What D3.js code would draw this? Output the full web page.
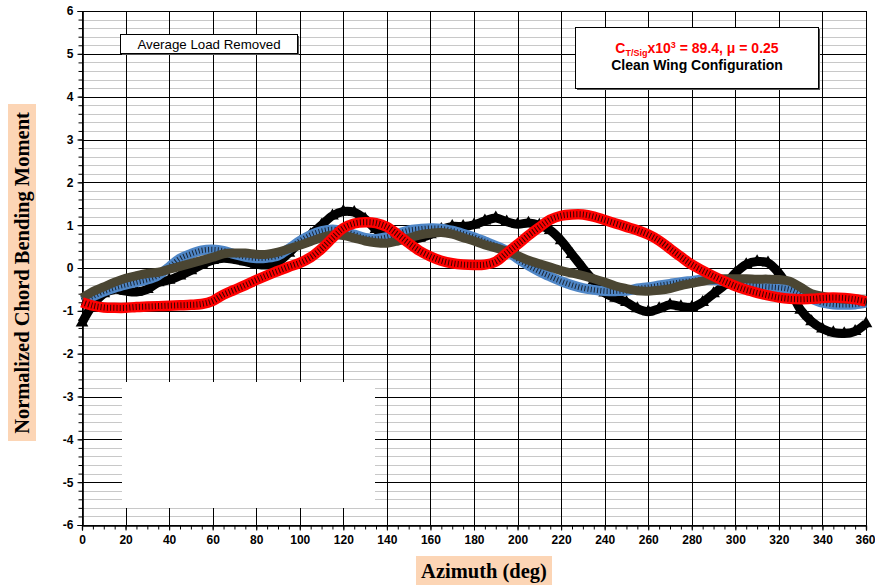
<!DOCTYPE html>
<html>
<head>
<meta charset="utf-8">
<script src="https://cdn.jsdelivr.net/npm/d3@7"></script>
<style>
  html, body { margin: 0; padding: 0; background: #fff; }
  svg { display: block; }
</style>
</head>
<body>
<svg id="chart" width="875" height="585"></svg>
<script>
// Azimuth samples (deg), every 5 degrees
const azimuth = d3.range(0, 361, 5);

// Normalized chord bending moment, one array per series
const seriesBlack = [
  -1.28, -0.86, -0.60, -0.50, -0.54, -0.56, -0.50, -0.34, -0.28, -0.18,
  -0.06, 0.08, 0.18, 0.23, 0.20, 0.15, 0.09, 0.07, 0.14, 0.35,
  0.60, 0.78, 1.00, 1.22, 1.32, 1.30, 1.14, 0.90, 0.74, 0.67,
  0.66, 0.70, 0.78, 0.90, 0.97, 0.97, 1.01, 1.10, 1.17, 1.08,
  1.02, 1.05, 1.00, 0.88, 0.64, 0.32, 0.00, -0.30, -0.58, -0.70,
  -0.80, -0.95, -1.02, -0.95, -0.86, -0.90, -0.92, -0.80, -0.60, -0.40,
  -0.12, 0.08, 0.15, 0.12, -0.12, -0.50, -0.98, -1.25, -1.42, -1.51,
  -1.53, -1.48, -1.30
];
const seriesBlue = [
  -0.76, -0.66, -0.55, -0.46, -0.39, -0.33, -0.27, -0.17, 0.02, 0.22,
  0.33, 0.41, 0.43, 0.40, 0.32, 0.26, 0.23, 0.24, 0.29, 0.45,
  0.63, 0.77, 0.86, 0.90, 0.86, 0.78, 0.70, 0.68, 0.72, 0.80,
  0.88, 0.91, 0.93, 0.92, 0.87, 0.80, 0.72, 0.62, 0.52, 0.40,
  0.22, 0.06, -0.08, -0.20, -0.31, -0.40, -0.47, -0.51, -0.54, -0.54,
  -0.53, -0.48, -0.45, -0.41, -0.37, -0.33, -0.30, -0.27, -0.28, -0.31,
  -0.36, -0.40, -0.42, -0.44, -0.46, -0.50, -0.60, -0.72, -0.81, -0.85,
  -0.86, -0.85, -0.81
];
const seriesOlive = [
  -0.70, -0.55, -0.44, -0.33, -0.24, -0.18, -0.13, -0.10, -0.03, 0.04,
  0.11, 0.18, 0.25, 0.33, 0.35, 0.35, 0.32, 0.32, 0.37, 0.45,
  0.53, 0.62, 0.71, 0.77, 0.76, 0.70, 0.63, 0.59, 0.58, 0.63,
  0.70, 0.77, 0.81, 0.83, 0.79, 0.71, 0.63, 0.54, 0.47, 0.39,
  0.29, 0.18, 0.10, 0.02, -0.06, -0.12, -0.18, -0.25, -0.33, -0.42,
  -0.48, -0.53, -0.54, -0.52, -0.48, -0.41, -0.36, -0.31, -0.27, -0.25,
  -0.25, -0.25, -0.26, -0.26, -0.27, -0.31, -0.45, -0.60, -0.66, -0.71,
  -0.73, -0.73, -0.75
];
const seriesRed = [
  -0.80, -0.88, -0.92, -0.93, -0.93, -0.91, -0.90, -0.89, -0.88, -0.87,
  -0.86, -0.84, -0.77, -0.62, -0.51, -0.40, -0.28, -0.17, -0.07, 0.03,
  0.12, 0.25, 0.45, 0.70, 0.93, 1.04, 1.07, 1.05, 0.96, 0.78,
  0.58, 0.40, 0.27, 0.17, 0.11, 0.08, 0.07, 0.08, 0.15, 0.35,
  0.55, 0.76, 0.95, 1.13, 1.22, 1.25, 1.25, 1.20, 1.12, 1.04,
  0.96, 0.88, 0.78, 0.64, 0.45, 0.26, 0.08, -0.06, -0.19, -0.31,
  -0.42, -0.51, -0.58, -0.64, -0.69, -0.72, -0.73, -0.72, -0.70, -0.69,
  -0.70, -0.73, -0.78
];

// Axis ticks
const xMajorTicks = d3.range(0, 361, 20);
const xMinorTicks = d3.range(0, 361, 5);
const yMajorTicks = d3.range(-6, 7, 1);
const yMinorTicks = d3.range(-30, 31).map(v => v / 5);

const titleY = "Normalized Chord Bending Moment";
const titleX = "Azimuth (deg)";
const noteLeft = "Average Load Removed";

const svg = d3.select("#chart");
const plotLeft = 82, plotRight = 866, plotTop = 11, plotBottom = 525;

const x = d3.scaleLinear().domain([0, 360]).range([plotLeft, plotRight]);
const y = d3.scaleLinear().domain([-6, 6]).range([plotBottom, plotTop]);

// Grid: light minor lines every 0.2, black lines at integers and every 20 deg
const grid = svg.append("g");
grid.selectAll("line.minor")
  .data(yMinorTicks.filter(v => Math.abs(v - Math.round(v)) > 1e-6))
  .join("line")
  .attr("x1", plotLeft).attr("x2", plotRight)
  .attr("y1", d => Math.round(y(d)) + 0.5).attr("y2", d => Math.round(y(d)) + 0.5)
  .attr("stroke", "#c8c8c8").attr("stroke-width", 1);
grid.selectAll("line.hmajor")
  .data(yMajorTicks)
  .join("line")
  .attr("x1", plotLeft).attr("x2", plotRight)
  .attr("y1", d => Math.round(y(d)) + 0.5).attr("y2", d => Math.round(y(d)) + 0.5)
  .attr("stroke", "#000").attr("stroke-width", 1);
grid.selectAll("line.vmajor")
  .data(xMajorTicks)
  .join("line")
  .attr("x1", d => Math.round(x(d)) + 0.5).attr("x2", d => Math.round(x(d)) + 0.5)
  .attr("y1", plotTop).attr("y2", plotBottom)
  .attr("stroke", "#000").attr("stroke-width", 1);

// Empty legend area in the lower left
svg.append("rect")
  .attr("x", 122).attr("y", 382).attr("width", 253).attr("height", 126)
  .attr("fill", "#fff");

// Axes
const tickFont = "'Liberation Sans', Arial, sans-serif";
const plainInt = d => String(d);
const yAxis = svg.append("g").attr("transform", `translate(${plotLeft + 0.5},0)`)
  .call(d3.axisLeft(y).tickValues(yMajorTicks).tickSize(5).tickPadding(4).tickFormat(plainInt));
const yMinor = svg.append("g").attr("transform", `translate(${plotLeft + 0.5},0)`)
  .call(d3.axisLeft(y).tickValues(yMinorTicks).tickSize(4).tickFormat(""));
const xAxis = svg.append("g").attr("transform", `translate(0,${plotBottom + 0.5})`)
  .call(d3.axisBottom(x).tickValues(xMajorTicks).tickSize(5).tickPadding(5).tickFormat(plainInt));
const xMinor = svg.append("g").attr("transform", `translate(0,${plotBottom + 0.5})`)
  .call(d3.axisBottom(x).tickValues(xMinorTicks).tickSize(4).tickFormat(""));
[yAxis, yMinor, xAxis, xMinor].forEach(g => {
  g.select(".domain").attr("stroke", "#000").attr("stroke-width", 1.2);
  g.selectAll(".tick line").attr("stroke", "#000");
  g.selectAll("text").attr("fill", "#000")
    .style("font-family", tickFont).style("font-size", "12px").style("font-weight", "bold");
});
// keep the last azimuth label inside the page
xAxis.selectAll(".tick text").filter(d => d === 360).attr("text-anchor", "end").attr("dx", "9");

// Series
const line = d3.line()
  .x((d, i) => x(azimuth[i]))
  .y(d => y(d))
  .curve(d3.curveCatmullRom.alpha(0.5));

const plot = svg.append("g");

// black series: thick line with triangle markers
plot.append("path").datum(seriesBlack)
  .attr("d", line).attr("fill", "none")
  .attr("stroke", "#000").attr("stroke-width", 9).attr("stroke-linejoin", "round");
plot.selectAll("path.tri").data(seriesBlack).join("path")
  .attr("class", "tri")
  .attr("d", d3.symbol(d3.symbolTriangle, 70))
  .attr("transform", (d, i) => `translate(${x(azimuth[i])},${y(d)})`)
  .attr("fill", "#000");

// blue series: square markers giving a striped band
plot.append("path").datum(seriesBlue)
  .attr("d", line).attr("fill", "none")
  .attr("stroke", "#4f86c6").attr("stroke-width", 10).attr("stroke-linejoin", "round");
plot.append("path").datum(seriesBlue)
  .attr("d", line).attr("fill", "none")
  .attr("stroke", "#1a2533").attr("stroke-width", 5.5)
  .attr("stroke-dasharray", "1 2.2");

// olive series
plot.append("path").datum(seriesOlive)
  .attr("d", line).attr("fill", "none")
  .attr("stroke", "#4b4633").attr("stroke-width", 9).attr("stroke-linejoin", "round");

// red series: square markers giving a striped band
plot.append("path").datum(seriesRed)
  .attr("d", line).attr("fill", "none")
  .attr("stroke", "#ff0000").attr("stroke-width", 10.5).attr("stroke-linejoin", "round");
plot.append("path").datum(seriesRed)
  .attr("d", line).attr("fill", "none")
  .attr("stroke", "#3a0000").attr("stroke-width", 6)
  .attr("stroke-dasharray", "1 2.2");

// Note box, upper left
const note = svg.append("g");
note.append("rect").attr("x", 122).attr("y", 36).attr("width", 177).attr("height", 19).attr("fill", "#555");
note.append("rect").attr("x", 120.5).attr("y", 34.5).attr("width", 177).attr("height", 19)
  .attr("fill", "#fff").attr("stroke", "#000").attr("stroke-width", 1);
note.append("text").attr("x", 209).attr("y", 49).attr("text-anchor", "middle")
  .style("font-family", tickFont).style("font-size", "13.3px").attr("fill", "#000")
  .text(noteLeft);

// Condition box, upper right
const cond = svg.append("g");
cond.append("rect").attr("x", 577).attr("y", 29).attr("width", 243).attr("height", 61).attr("fill", "#555");
cond.append("rect").attr("x", 575.5).attr("y", 27.5).attr("width", 243).attr("height", 61)
  .attr("fill", "#fff").attr("stroke", "#000").attr("stroke-width", 1);
const l1 = cond.append("text").attr("x", 697).attr("y", 53).attr("text-anchor", "middle")
  .style("font-family", tickFont).style("font-size", "14px").style("font-weight", "bold")
  .attr("fill", "#ff0000");
l1.append("tspan").text("C");
l1.append("tspan").attr("dy", 3).style("font-size", "9px").text("T/Sig");
l1.append("tspan").attr("dy", -3).text("x10");
l1.append("tspan").attr("dy", -5).style("font-size", "9px").text("3");
l1.append("tspan").attr("dy", 5).text(" = 89.4, \u03bc = 0.25");
cond.append("text").attr("x", 697).attr("y", 70).attr("text-anchor", "middle")
  .style("font-family", tickFont).style("font-size", "14px").style("font-weight", "bold")
  .attr("fill", "#000").text("Clean Wing Configuration");

// Axis titles on peach backgrounds
const serif = "'Liberation Serif', 'Times New Roman', serif";
svg.append("rect").attr("x", 8).attr("y", 104).attr("width", 28).attr("height", 337).attr("fill", "#fcd5b5");
svg.append("text")
  .attr("transform", "translate(29,273) rotate(-90)")
  .attr("text-anchor", "middle")
  .style("font-family", serif).style("font-size", "20.5px").style("font-weight", "bold")
  .attr("fill", "#000").text(titleY);

svg.append("rect").attr("x", 416).attr("y", 556).attr("width", 136).attr("height", 29).attr("fill", "#fcd5b5");
svg.append("text").attr("x", 484).attr("y", 578).attr("text-anchor", "middle")
  .style("font-family", serif).style("font-size", "20.5px").style("font-weight", "bold")
  .attr("fill", "#000").text(titleX);
</script>
</body>
</html>
